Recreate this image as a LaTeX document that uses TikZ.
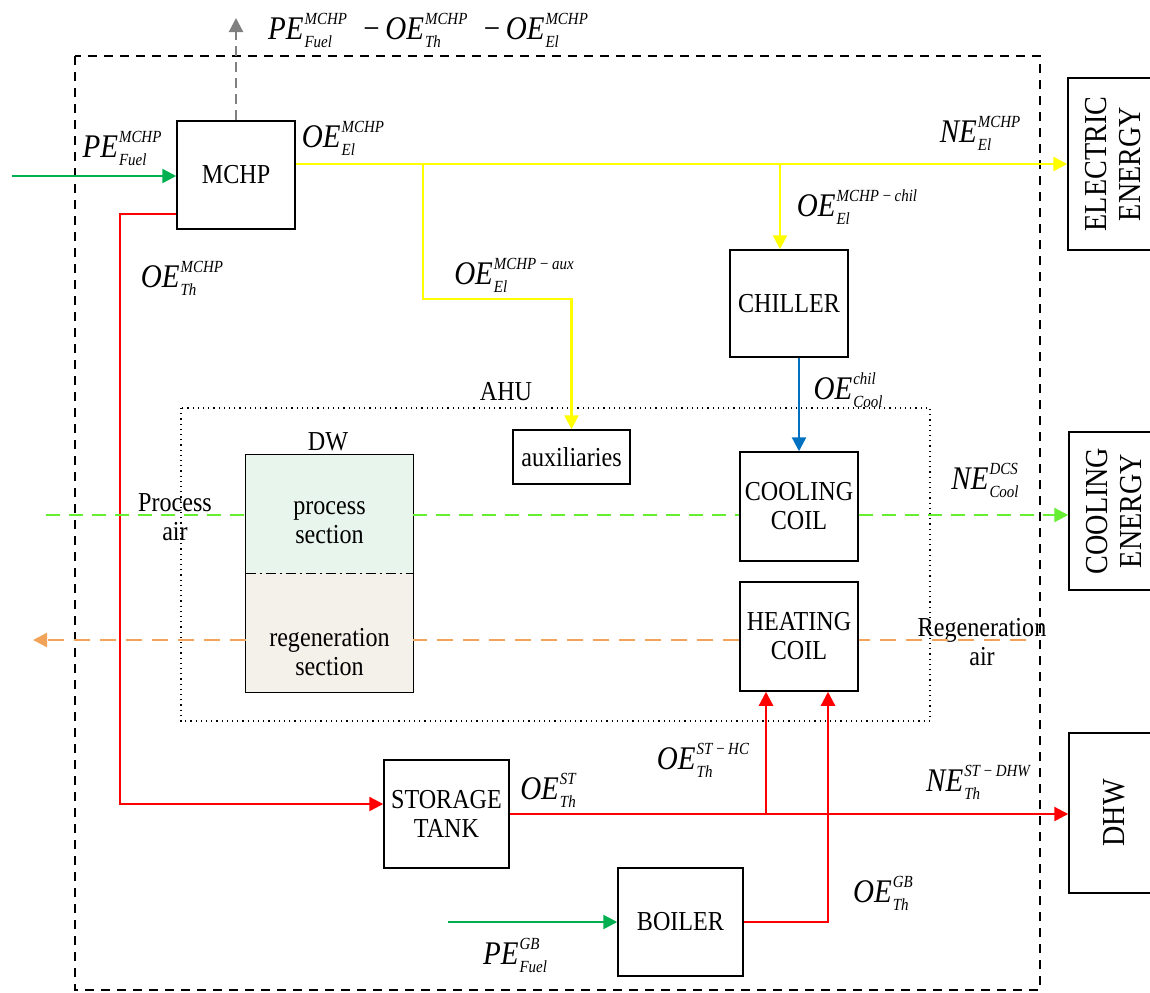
\documentclass[tikz,border=0pt]{standalone}
\usepackage{fontspec}
\setmainfont{Liberation Serif}[FakeStretch=0.88]
\usepackage{graphicx}
\usepackage{tikz}
\usetikzlibrary{arrows.meta,positioning,calc}
\definecolor{elc}{HTML}{FFFF00}
\definecolor{thc}{HTML}{FF0000}
\definecolor{fuc}{HTML}{00B050}
\definecolor{clc}{HTML}{0070C0}
\definecolor{pac}{HTML}{66EE33}
\definecolor{rac}{HTML}{F2A35A}
\definecolor{grc}{HTML}{808080}
\definecolor{dwg}{HTML}{E8F5EC}
\definecolor{dwb}{HTML}{F4F1EA}
\newcommand\scr[1]{\hbox{\fontsize{8.5}{9}\selectfont\itshape #1}}
\newcommand\enr[3]{\textit{#1}\kern0.5pt\ooalign{\raisebox{7.5pt}{\scr{#2}}\cr\raisebox{-4pt}{\scr{#3}}\cr}}
\newcommand\vtx[1]{\rotatebox{90}{\begin{tabular}{@{}c@{}}#1\end{tabular}}}

\begin{document}
\begin{tikzpicture}[
  x=0.5pt,y=-0.5pt,
  font=\fontsize{13.7}{14.5}\selectfont,
  bx/.style={rectangle,draw,line width=0.75pt,align=center,inner sep=0pt,minimum width=59pt,minimum height=54pt},
  ob/.style={bx,minimum width=48.5pt,font=\fontsize{16}{17}\selectfont},
  dws/.style={rectangle,inner sep=0pt,minimum width=83.5pt},
  tx/.style={align=center,inner sep=0pt},
  lb/.style={inner sep=0pt,font=\fontsize{16.5}{19}\selectfont},
  tip/.style={-{Triangle[length=7pt,width=7pt]}},
  el/.style={draw=elc,line width=1.2pt},
  th/.style={draw=thc,line width=1.2pt},
  fu/.style={draw=fuc,line width=1.2pt},
  cl/.style={draw=clc,line width=1.2pt},
  pa/.style={draw=pac,line width=1.1pt,dash pattern=on 7pt off 4.5pt},
  ra/.style={draw=rac,line width=1.1pt,dash pattern=on 8pt off 5pt},
  gr/.style={draw=grc,line width=1.1pt,dash pattern=on 5pt off 3pt}
]
\useasboundingbox (0,0) rectangle (1150,992);
\draw[line width=0.6pt,dash pattern=on 4.5pt off 3.5pt] (75,56) rectangle (1040,990);
\draw[line width=0.6pt,dotted] (181,408) rectangle (930,721);

\node[bx] (mchp) at (236,175) {MCHP};
\node[bx,minimum height=53.5pt] (chil) at (789,303.5) {CHILLER};
\node[bx,minimum width=58.5pt,minimum height=27pt] (aux) at (571.5,457) {auxiliaries};
\node[bx,minimum height=54.5pt] (cc) at (799,506.5) {COOLING\\COIL};
\node[bx,minimum height=54.5pt] (hc) at (799,636.5) {HEATING\\COIL};
\node[bx,minimum width=62.5pt] (st) at (446.5,814) {STORAGE\\TANK};
\node[bx,minimum width=62.5pt] (gb) at (680.5,922) {BOILER};
\node[ob,minimum height=86pt] (ee) at (1116.5,164) {\vtx{ELECTRIC\\ENERGY}};
\node[ob,minimum height=79pt] (ce) at (1117.5,511) {\vtx{COOLING\\ENERGY}};
\node[ob,minimum height=80pt] (dhw) at (1117.5,813) {\vtx{DHW}};

\node[dws,fill=dwg,minimum height=59pt] (dwp) at (329.5,514) {};
\node[dws,fill=dwb,minimum height=59.5pt] (dwr) at (329.5,632.5) {};
\draw[line width=0.75pt] (dwp.north west) rectangle (dwr.south east);
\draw[line width=0.5pt,dash pattern=on 5pt off 2pt on 1pt off 2pt] (dwp.south west) -- (dwp.south east);
\node[tx] (dwpt) at (329.5,523) {process\\section};
\node[tx] (dwrt) at (329.5,652) {regeneration\\section};
\node[tx] (dwl) at (328,442) {DW};
\node[tx] (ahul) at (506,392) {AHU};
\node[tx] (pal) at (175,517) {Process\\air};
\node[tx] (ral) at (982,642) {Regeneration\\air};

\node[lb] (loss) at (428,30) {\enr{PE}{MCHP}{Fuel}\enspace−\,\enr{OE}{MCHP}{Th}\enspace−\,\enr{OE}{MCHP}{El}};
\node[lb] (pemchp) at (122,148) {\enr{PE}{MCHP}{Fuel}};
\node[lb] (oeelm) at (343,138) {\enr{OE}{MCHP}{El}};
\node[lb] (oethm) at (182,278) {\enr{OE}{MCHP}{Th}};
\node[lb] (oeaux) at (514,275) {\enr{OE}{MCHP\,−\,aux}{El}};
\node[lb] (oechil) at (857,207) {\enr{OE}{MCHP\,−\,chil}{El}};
\node[lb] (neel) at (980,133) {\enr{NE}{MCHP}{El}};
\node[lb] (oecool) at (848,390) {\enr{OE}{chil}{Cool}};
\node[lb] (necool) at (985,480) {\enr{NE}{DCS}{Cool}};
\node[lb] (oest) at (548,790) {\enr{OE}{ST}{Th}};
\node[lb] (oesthc) at (703,760) {\enr{OE}{ST\,−\,HC}{Th}};
\node[lb] (nedhw) at (978,782) {\enr{NE}{ST\,−\,DHW}{Th}};
\node[lb] (oegb) at (883,893) {\enr{OE}{GB}{Th}};
\node[lb] (pegb) at (515,955) {\enr{PE}{GB}{Fuel}};

\coordinate (top) at (236,18);
\coordinate (fin) at (12,176);
\coordinate (thb) at (120,804);
\coordinate (auxbr) at (423,164);
\coordinate (chilin) at ([xshift=-4.5pt]chil.north);
\coordinate (pain) at (46,515);
\coordinate (rain) at (1026,640);
\coordinate (raout) at (33,640);
\coordinate (hcin) at ([xshift=-16.5pt]hc.south);
\coordinate (gbup) at ([xshift=14.5pt]hc.south);
\coordinate (gbfuel) at (448,922);

\draw[gr,tip] (mchp.north) -- (top);
\draw[fu,tip] (fin) -- (mchp.west |- fin);
\draw[th,tip] ([yshift=8pt]mchp.south west) -| (thb) -- (thb -| st.west);
\draw[el,tip] (mchp.east |- ee.west) -- (ee.west);
\draw[el,tip] (auxbr) |- ($(aux.north)+(0,-130)$) -- (aux.north);
\draw[el,tip] (chilin |- ee.west) -- (chilin);
\draw[cl,tip] (cc.north |- chil.south) -- (cc.north);
\draw[pa] (pain) -- (pain -| dwp.west);
\draw[pa] (pain -| dwp.east) -- (pain -| cc.west);
\draw[pa,tip] (pain -| cc.east) -- (pain -| ce.west);
\draw[ra] (rain) -- (rain -| hc.east);
\draw[ra] (rain -| hc.west) -- (rain -| dwr.east);
\draw[ra,tip] (rain -| dwr.west) -- (raout);
\draw[th,tip] (st.east) -- (st.east -| dhw.west);
\draw[th,tip] (hcin |- st.east) -- (hcin);
\draw[th,tip] (gb.east) -| (gbup);
\draw[fu,tip] (gbfuel) -- (gb.west);
\end{tikzpicture}
\end{document}
